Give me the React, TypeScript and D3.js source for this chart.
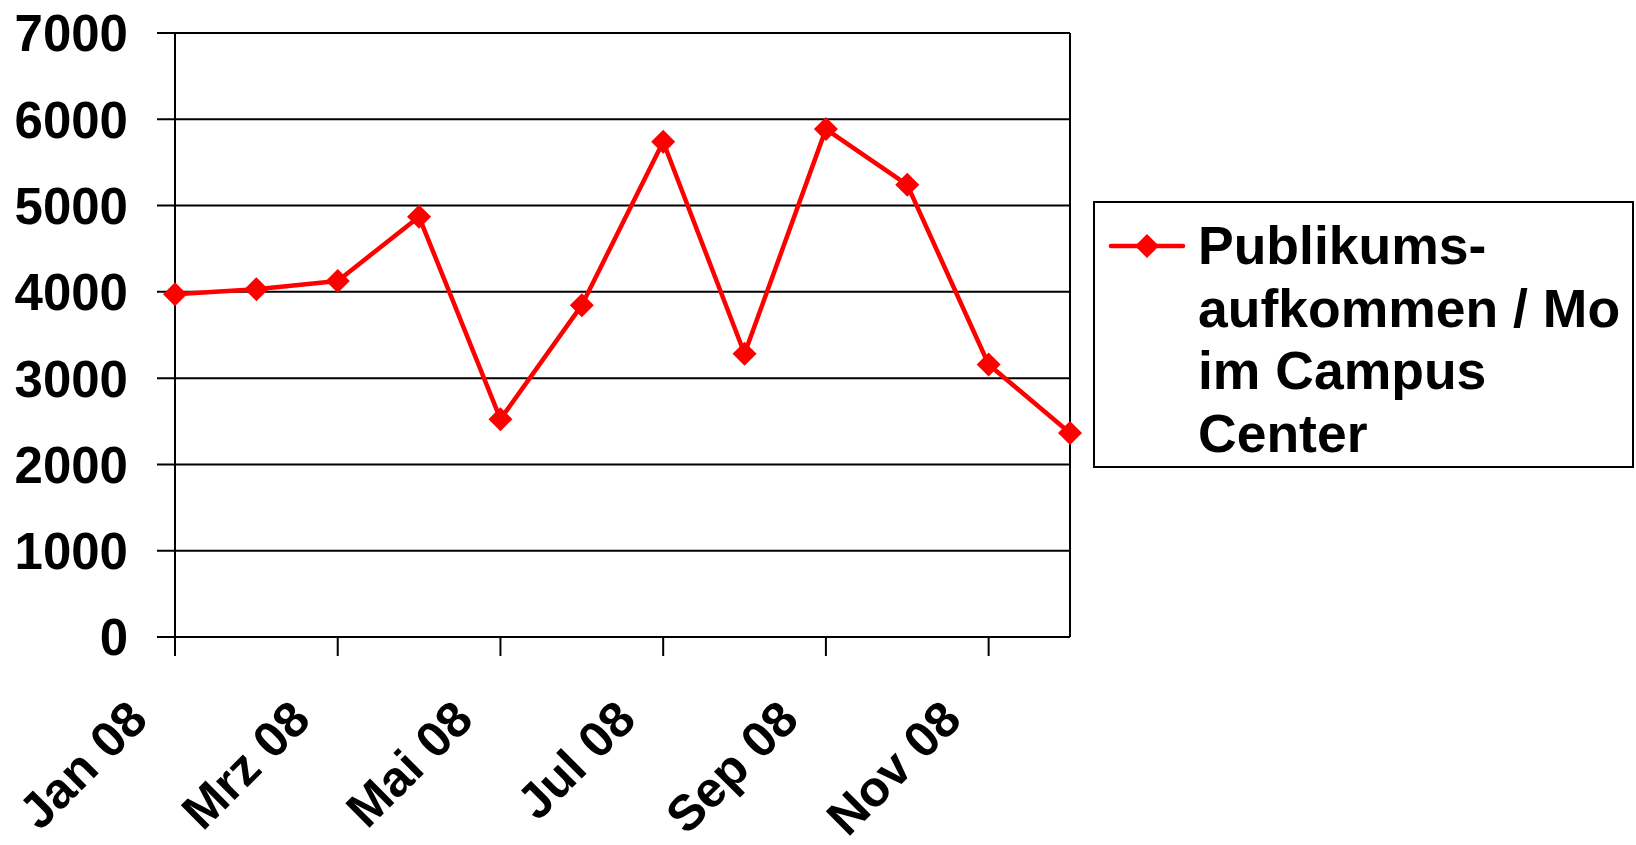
import * as d3 from "d3";

const months = ["Jan", "Feb", "Mrz", "Apr", "Mai", "Jun", "Jul", "Aug", "Sep", "Okt", "Nov", "Dez"];
const visitors = [3973, 4031, 4127, 4870, 2525, 3846, 5740, 3282, 5886, 5240, 3158, 2365];
const labelledMonths = ["Jan", "Mrz", "Mai", "Jul", "Sep", "Nov"];
const yTicks = [0, 1000, 2000, 3000, 4000, 5000, 6000, 7000];
const legendLines = ["Publikums-", "aufkommen / Mo", "im Campus", "Center"];

const W = 1636;
const H = 845;
const FONT = "'Liberation Sans', Arial, sans-serif";
const RED = "#ff0000";

const App = () => {
  const x = d3.scalePoint<string>().domain(months).range([175, 1070]);
  const y = d3.scaleLinear().domain([0, 7000]).range([637, 33]);

  const line = d3
    .line<number>()
    .x((_d, i) => x(months[i]) as number)
    .y((d) => y(d));

  const diamond = (cx: number, cy: number, r: number) =>
    `M${cx},${cy - r}L${cx + r},${cy}L${cx},${cy + r}L${cx - r},${cy}Z`;

  const x0 = x.range()[0];
  const x1 = x.range()[1];

  return (
    <svg
      width={W}
      height={H}
      style={{ position: "absolute", left: 0, top: 0, background: "#fff" }}
      fontFamily={FONT}
      fontWeight="bold"
    >
      {/* gridlines + left ticks */}
      {yTicks.map((t) => (
        <g key={t}>
          <line x1={157} x2={x1} y1={y(t)} y2={y(t)} stroke="#000" strokeWidth={2} />
          <text x={128} y={y(t)} dy="0.36em" textAnchor="end" fontSize={51}>
            {t}
          </text>
        </g>
      ))}

      {/* plot frame */}
      <line x1={x0} x2={x0} y1={y(7000)} y2={y(0)} stroke="#000" strokeWidth={2} />
      <line x1={x1} x2={x1} y1={y(7000)} y2={y(0)} stroke="#000" strokeWidth={2} />

      {/* x ticks and rotated labels */}
      {labelledMonths.map((m) => {
        const px = x(m) as number;
        return (
          <g key={m}>
            <line x1={px} x2={px} y1={y(0)} y2={y(0) + 19} stroke="#000" strokeWidth={2} />
            <text
              transform={`translate(${px - 25},${722}) rotate(-45)`}
              textAnchor="end"
              fontSize={50}
            >
              {`${m} 08`}
            </text>
          </g>
        );
      })}

      {/* series */}
      <path d={line(visitors) ?? ""} fill="none" stroke={RED} strokeWidth={4.5} strokeLinejoin="round" />
      {visitors.map((v, i) => (
        <path key={i} d={diamond(x(months[i]) as number, y(v), 12)} fill={RED} />
      ))}

      {/* legend */}
      <rect x={1094} y={202} width={539} height={265} fill="#fff" stroke="#000" strokeWidth={2} />
      <line x1={1111} x2={1183} y1={246} y2={246} stroke={RED} strokeWidth={4.5} strokeLinecap="round" />
      <path d={diamond(1147, 246, 12)} fill={RED} />
      {legendLines.map((l, i) => (
        <text key={l} x={1198} y={264 + i * 62.7} fontSize={53.5}>
          {l}
        </text>
      ))}
    </svg>
  );
};

export default App;
